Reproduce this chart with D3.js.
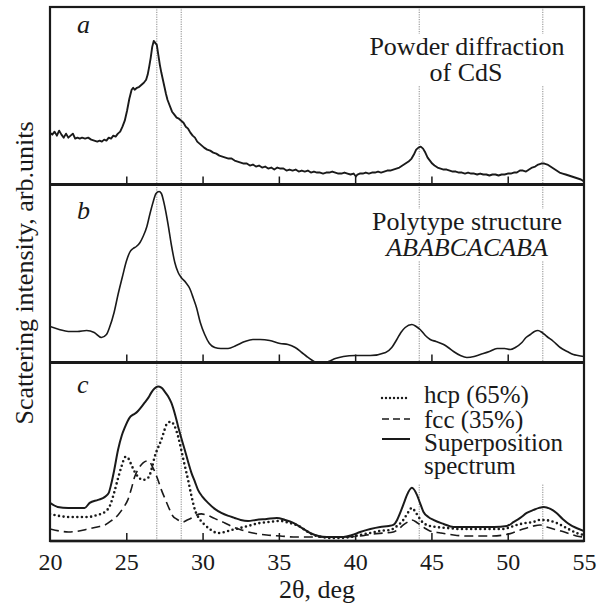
<!DOCTYPE html>
<html><head><meta charset="utf-8">
<script src="https://cdn.jsdelivr.net/npm/d3@7"></script>
<style>body{margin:0;background:#fff}svg{display:block}</style>
</head><body>
<script>
// ---------- data (2θ in deg, intensity in arb. units) ----------
const xTickValues = [20, 25, 30, 35, 40, 45, 50, 55];
const innerTicks = [25, 30, 35, 40, 45, 50];
const refLines = [27.0, 28.6, 44.2, 52.3];
const panelLetters = ["a", "b", "c"];

const powderCdS = [
[20.0,52],[20.15,50],[20.3,53],[20.45,49],[20.6,54],[20.75,50],[20.9,47],[21.05,51],[21.2,47],[21.35,49],[21.5,51],[21.65,46],[21.8,47],[21.95,46],[22.1,47],[22.3,46],[22.5,47],[22.7,45],[22.9,44],[23.1,43],[23.25,44],[23.4,43],[23.55,45],[23.7,44],[23.85,47],[24.0,46],[24.15,49],[24.3,48],[24.45,51],[24.6,53],[24.75,58],[24.9,64],[25.05,74],[25.2,86],[25.35,95],[25.45,97],[25.55,95],[25.7,97],[25.85,98],[26.0,100],[26.15,102],[26.3,105],[26.4,110],[26.5,118],[26.6,127],[26.7,138],[26.8,144],[26.9,142],[27.0,140],[27.1,130],[27.2,120],[27.3,112],[27.4,105],[27.5,98],[27.6,91],[27.7,85],[27.85,79],[28.0,73],[28.15,70],[28.3,67],[28.45,66],[28.6,64],[28.75,62],[28.9,58],[29.05,56],[29.2,52],[29.35,49],[29.5,47],[29.65,43],[29.8,41],[29.95,39],[30.1,37],[30.3,35],[30.5,34],[30.7,32],[30.9,31],[31.1,29],[31.3,28],[31.5,27],[31.7,26],[31.9,26],[32.1,24],[32.3,23],[32.5,22],[32.7,21],[32.9,21],[33.1,19],[33.3,20],[33.5,18],[33.7,19],[33.9,17],[34.1,18],[34.3,16],[34.5,17],[34.7,15],[34.9,17],[35.1,16],[35.3,16],[35.5,14],[35.7,15],[35.9,14],[36.1,15],[36.3,13],[36.5,14],[36.7,13],[36.9,14],[37.1,12],[37.3,13],[37.5,12],[37.7,12],[37.9,11],[38.1,12],[38.3,12],[38.5,13],[38.7,12],[38.9,11],[39.1,11],[39.3,12],[39.5,11],[39.7,10],[39.9,11],[40.05,8],[40.15,10],[40.3,11],[40.5,11],[40.7,12],[40.9,11],[41.1,12],[41.3,12],[41.5,13],[41.7,12],[41.9,13],[42.1,14],[42.3,14],[42.5,15],[42.7,16],[42.9,17],[43.1,19],[43.3,21],[43.5,23],[43.7,26],[43.85,30],[44.0,35],[44.15,37],[44.3,38],[44.45,36],[44.6,32],[44.75,27],[44.9,24],[45.05,21],[45.2,19],[45.4,17],[45.6,16],[45.8,15],[46.0,15],[46.2,14],[46.4,13],[46.6,13],[46.8,12],[47.0,12],[47.2,11],[47.4,12],[47.6,11],[47.8,11],[48.0,10],[48.2,11],[48.4,10],[48.6,10],[48.8,9],[49.0,10],[49.2,10],[49.4,9],[49.6,10],[49.8,10],[50.0,11],[50.2,11],[50.4,12],[50.6,12],[50.8,14],[51.0,14],[51.2,13],[51.4,15],[51.6,17],[51.8,18],[52.0,20],[52.2,21],[52.4,21],[52.6,20],[52.8,18],[53.0,16],[53.2,14],[53.4,12],[53.6,11],[53.8,10],[54.0,9],[54.2,8],[54.4,7],[54.6,6],[54.8,5],[55.0,3]
];

const polytype = [
[20,36],[20.6,33],[21.2,31],[21.8,31],[22.4,32],[22.9,30],[23.37,25],[23.7,28],[23.9,35],[24.2,50],[24.46,68],[24.75,86],[25.0,101],[25.22,110],[25.45,114],[25.66,116],[25.9,120],[26.1,126],[26.35,136],[26.54,148],[26.75,160],[26.95,169],[27.15,171],[27.3,169],[27.45,161],[27.6,150],[27.74,138],[27.95,118],[28.18,100],[28.4,90],[28.6,85],[28.9,80],[29.16,74],[29.4,64],[29.6,55],[29.85,40],[30.14,28],[30.45,19],[30.8,15],[31.2,14],[31.67,14],[32.2,17],[32.77,21],[33.3,23],[33.77,23],[34.4,22],[35.08,19],[35.6,18],[36.07,15],[36.5,10],[36.83,6],[37.2,2],[37.45,0],[38.0,0],[38.25,1],[38.7,4],[39.23,6],[40.0,7],[41.0,7],[42.0,10],[42.4,15],[42.73,23],[43.0,30],[43.28,35],[43.72,38],[44.0,36],[44.26,33],[44.6,27],[44.92,23],[45.3,21],[45.8,18],[46.1,15],[46.45,11],[46.9,7],[47.32,5],[47.8,6],[48.2,8],[48.8,11],[49.3,14],[49.8,14],[50.16,13],[50.5,15],[50.93,20],[51.2,25],[51.48,28],[51.75,31],[51.98,32],[52.25,30],[52.57,26],[53.0,21],[53.44,15],[53.9,11],[54.3,8],[54.6,7],[55,6]
];

const superposition = [
[20,38],[20.5,34],[21.2,33],[21.8,33],[22.27,33],[22.6,38],[23.15,41],[23.6,44],[23.85,48],[24.0,56],[24.2,70],[24.46,91],[24.7,105],[24.9,113],[25.22,123],[25.45,126],[25.66,128],[25.95,133],[26.2,138],[26.45,143],[26.64,148],[26.85,152],[27.08,154],[27.3,153],[27.52,149],[27.75,144],[27.95,138],[28.2,126],[28.4,114],[28.6,103],[28.83,91],[29.05,79],[29.27,68],[29.5,59],[29.7,51],[30.0,44],[30.36,38],[30.8,32],[31.23,28],[31.7,25],[32.1,23],[32.5,21],[32.98,20],[33.5,21],[34.2,22],[34.87,23],[35.4,21],[35.95,18],[36.5,13],[37.05,8],[37.6,5],[38.15,4],[38.7,4],[39.23,4],[39.8,6],[40.33,9],[41.0,12],[41.64,14],[42.2,15],[42.5,16],[42.75,21],[42.95,28],[43.2,38],[43.4,46],[43.72,53],[44.05,46],[44.25,38],[44.48,29],[44.8,24],[45.13,21],[45.8,17],[46.45,14],[47.3,14],[48.2,14],[49.1,14],[49.95,15],[50.4,19],[50.82,23],[51.25,28],[51.7,31],[52.05,33],[52.36,34],[52.8,32],[53.2,28],[53.6,22],[54.1,16],[54.5,13],[55,10]
];

const hcp = [
[20,27],[20.6,25],[21.2,24],[21.9,24],[22.5,24],[23.1,26],[23.6,29],[23.95,36],[24.2,48],[24.45,62],[24.68,74],[24.96,84],[25.15,82],[25.33,76],[25.55,69],[25.77,64],[26.1,61],[26.35,62],[26.54,66],[26.7,74],[26.86,84],[27.08,93],[27.3,101],[27.47,109],[27.63,116],[27.92,119],[28.18,114],[28.4,104],[28.6,91],[28.82,76],[29.05,61],[29.27,45],[29.5,31],[29.8,22],[30.15,16],[30.55,11],[31.0,8],[31.45,9],[31.9,11],[32.46,13],[32.98,15],[33.77,18],[34.4,19],[35.08,20],[35.7,18],[36.3,15],[36.8,10],[37.27,6],[37.8,4],[38.36,3],[39.0,3],[39.67,4],[40.3,6],[41.0,8],[41.6,10],[42.3,11],[42.75,15],[43.16,21],[43.45,28],[43.72,33],[43.95,29],[44.16,24],[44.4,19],[44.7,16],[45.3,14],[46.0,13],[46.9,12],[47.76,12],[48.7,12],[49.73,12],[50.2,14],[50.6,16],[51.2,18],[51.7,19],[52.05,21],[52.36,21],[52.8,20],[53.2,18],[53.6,15],[54.1,11],[54.5,8],[55,6]
];

const fcc = [
[20,12],[20.6,10],[21.2,9],[21.9,10],[22.5,12],[23.1,14],[23.6,16],[24.0,20],[24.46,26],[24.8,33],[25.1,41],[25.35,53],[25.55,64],[25.8,72],[26.1,78],[26.43,80],[26.75,73],[27.05,62],[27.3,51],[27.6,40],[27.85,31],[28.05,25],[28.28,22],[28.5,20],[28.72,19],[29.0,21],[29.27,23],[29.6,26],[29.92,27],[30.25,26],[30.58,24],[31.0,21],[31.46,18],[32.0,14],[32.55,11],[33.3,8],[34.2,6],[35.1,5],[35.95,4],[36.8,4],[37.7,4],[38.6,4],[39.45,4],[40.3,5],[41.2,7],[41.9,8],[42.5,9],[42.85,12],[43.16,16],[43.45,19],[43.72,21],[44.0,19],[44.26,16],[44.55,13],[44.9,10],[45.6,8],[46.45,6],[47.3,5],[48.2,5],[49.0,5],[49.73,6],[50.3,8],[50.82,11],[51.25,13],[51.7,15],[52.13,16],[52.55,14],[53.0,12],[53.5,10],[54.1,7],[54.5,5],[55,4]
];

const legendLabels = ["hcp (65%)", "fcc (35%)", "Superposition", "spectrum"];

// ---------- layout ----------
const W = 604, H = 608;
const L = 50, R = 584, T = 7, B = 541;
const panelBounds = [[7, 184.5], [184.5, 362.5], [362.5, 541]];
const FONT = "'Liberation Serif','Times New Roman',serif";
const INK = "#1a1a1a";

const svg = d3.select("body").append("svg").attr("width", W).attr("height", H)
  .style("font-family", FONT);

const x = d3.scaleLinear().domain([20, 55]).range([L, R]);
const yScales = panelBounds.map(([t, b]) => d3.scaleLinear().domain([0, 178]).range([b, t]));

// clip paths
const defs = svg.append("defs");
panelBounds.forEach(([t, b], i) => {
  defs.append("clipPath").attr("id", "clip" + i)
    .append("rect").attr("x", L).attr("y", t).attr("width", R - L).attr("height", b - t);
});

// reference dotted lines
svg.append("g").selectAll("line").data(refLines).join("line")
  .attr("x1", d => x(d)).attr("x2", d => x(d))
  .attr("y1", T).attr("y2", B)
  .attr("stroke", "#8a8a8a").attr("stroke-width", 1).attr("stroke-dasharray", "1.2,1.2");

// white boxes behind the annotations
const masks = [[366, 34, 206, 52], [366, 209, 206, 52], [378, 364, 200, 120]];
svg.append("g").selectAll("rect").data(masks).join("rect")
  .attr("x", d => d[0]).attr("y", d => d[1]).attr("width", d => d[2]).attr("height", d => d[3])
  .attr("fill", "#fff");

// curves
const lineGen = (ys, curve) => d3.line().x(d => x(d[0])).y(d => ys(d[1])).curve(curve);

svg.append("path").datum(powderCdS).attr("clip-path", "url(#clip0)")
  .attr("d", lineGen(yScales[0], d3.curveLinear))
  .attr("fill", "none").attr("stroke", INK).attr("stroke-width", 1.9).attr("stroke-linejoin", "round");

svg.append("path").datum(polytype).attr("clip-path", "url(#clip1)")
  .attr("d", lineGen(yScales[1], d3.curveMonotoneX))
  .attr("fill", "none").attr("stroke", INK).attr("stroke-width", 1.6);

svg.append("path").datum(fcc).attr("clip-path", "url(#clip2)")
  .attr("d", lineGen(yScales[2], d3.curveMonotoneX))
  .attr("fill", "none").attr("stroke", INK).attr("stroke-width", 1.6).attr("stroke-dasharray", "9,5");

svg.append("path").datum(hcp).attr("clip-path", "url(#clip2)")
  .attr("d", lineGen(yScales[2], d3.curveMonotoneX))
  .attr("fill", "none").attr("stroke", INK).attr("stroke-width", 2.6)
  .attr("stroke-linecap", "round").attr("stroke-dasharray", "0,4.6");

svg.append("path").datum(superposition).attr("clip-path", "url(#clip2)")
  .attr("d", lineGen(yScales[2], d3.curveMonotoneX))
  .attr("fill", "none").attr("stroke", INK).attr("stroke-width", 2);

// inner ticks at the bottom of each panel
panelBounds.forEach(([t, b]) => {
  const g = svg.append("g").attr("transform", `translate(0,${b})`)
    .call(d3.axisTop(x).tickValues(innerTicks).tickSize(8).tickFormat(""));
  g.select(".domain").remove();
  g.selectAll("line").attr("stroke", INK).attr("stroke-width", 1.5);
});

// bottom tick labels
const xa = svg.append("g").attr("transform", `translate(0,${B})`)
  .call(d3.axisBottom(x).tickValues(xTickValues).tickSize(0).tickPadding(0).tickFormat(d3.format("d")));
xa.select(".domain").remove();
xa.selectAll("text").attr("dy", null).attr("y", 29)
  .attr("font-family", FONT).attr("font-size", 24).attr("fill", INK);

// frame and separators
svg.append("rect").attr("x", L).attr("y", T).attr("width", R - L).attr("height", B - T)
  .attr("fill", "none").attr("stroke", INK).attr("stroke-width", 2.2);
svg.append("g").selectAll("line").data([panelBounds[0][1], panelBounds[1][1]]).join("line")
  .attr("x1", L).attr("x2", R).attr("y1", d => d).attr("y2", d => d)
  .attr("stroke", INK).attr("stroke-width", 3);
svg.append("line").attr("x1", L).attr("x2", R).attr("y1", B).attr("y2", B)
  .attr("stroke", INK).attr("stroke-width", 2.6);

// panel letters
const letterY = [33, 219, 393];
svg.append("g").selectAll("text").data(panelLetters).join("text")
  .attr("x", 77).attr("y", (d, i) => letterY[i])
  .attr("font-size", 26).attr("font-style", "italic").attr("fill", INK).text(d => d);

// annotations
const ann = svg.append("g").attr("font-size", 26).attr("fill", INK).attr("text-anchor", "middle");
ann.append("text").attr("x", 467).attr("y", 55).text("Powder diffraction");
ann.append("text").attr("x", 466).attr("y", 81).text("of CdS");
ann.append("text").attr("x", 467).attr("y", 230).text("Polytype structure");
ann.append("text").attr("x", 467).attr("y", 256).attr("font-style", "italic").text("ABABCACABA");

// legend
const lg = svg.append("g");
const sampleY = [398, 419, 439];
const sampleStyles = [
  {w: 2.4, dash: "0,4", cap: "round"},
  {w: 1.6, dash: "7,4", cap: "butt"},
  {w: 2, dash: null, cap: "butt"}
];
sampleStyles.forEach((s, i) => {
  lg.append("line").attr("x1", 382).attr("x2", 410).attr("y1", sampleY[i]).attr("y2", sampleY[i])
    .attr("stroke", INK).attr("stroke-width", s.w).attr("stroke-dasharray", s.dash)
    .attr("stroke-linecap", s.cap);
});
const legendY = [403, 428, 451, 474];
lg.selectAll("text").data(legendLabels).join("text")
  .attr("x", 424).attr("y", (d, i) => legendY[i])
  .attr("font-size", 25).attr("fill", INK).text(d => d);

// axis titles
svg.append("text").attr("x", 317).attr("y", 598).attr("text-anchor", "middle")
  .attr("font-size", 26).attr("fill", INK).text("2θ, deg");
svg.append("text").attr("transform", "translate(33,273) rotate(-90)").attr("text-anchor", "middle")
  .attr("font-size", 26).attr("fill", INK).text("Scattering intensity, arb.units");
</script>
</body></html>
